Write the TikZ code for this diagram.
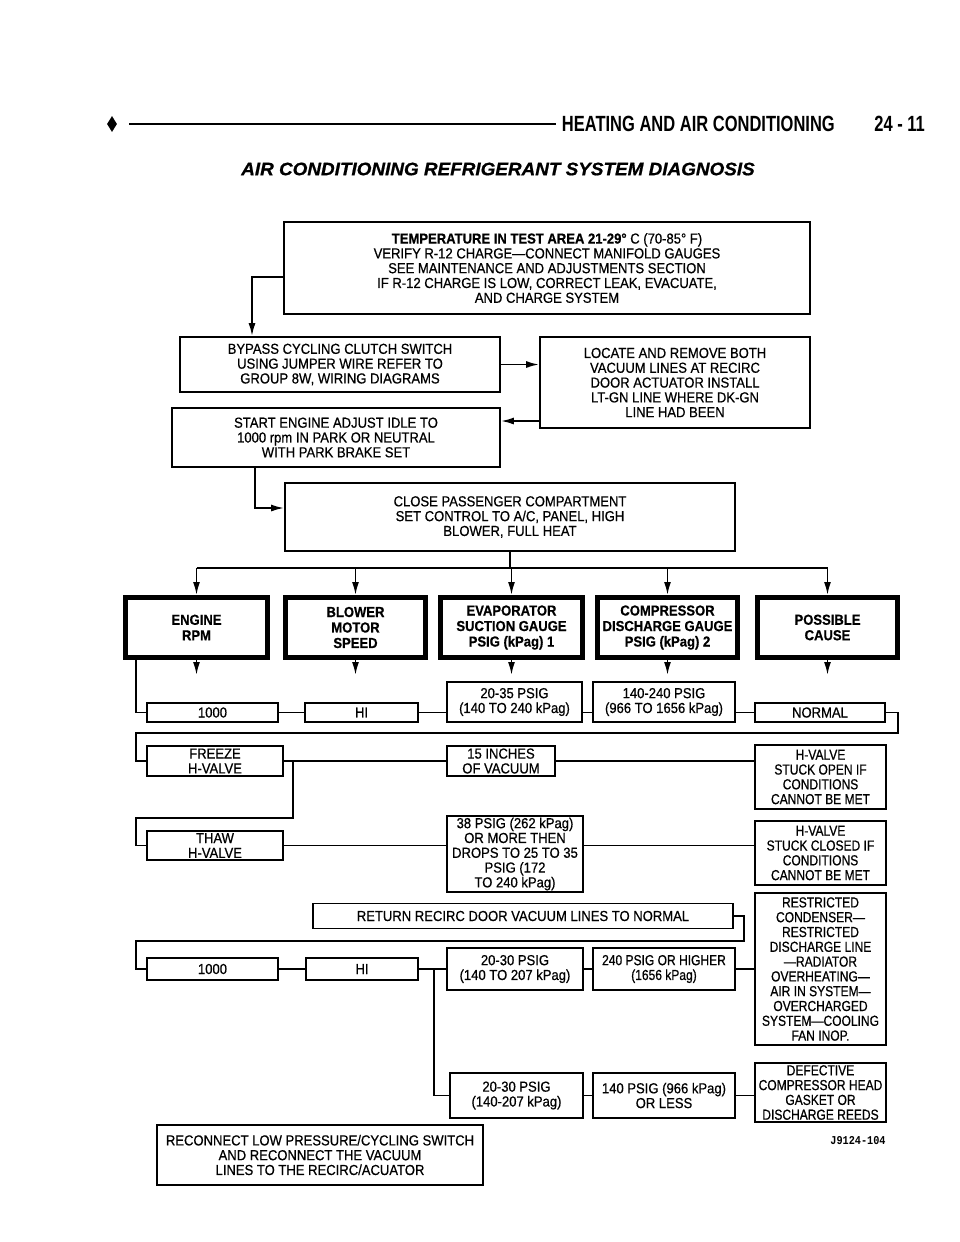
\documentclass[tikz,border=0pt]{standalone}
\usepackage{fontspec}
\setmainfont{Liberation Sans}
\newfontfamily\boxfont{Liberation Sans}[FakeStretch=0.9, FakeBold=0.6]
\newfontfamily\narrowfont{Liberation Sans}[FakeStretch=0.83, FakeBold=0.6]
\newfontfamily\headfont{Liberation Sans}[FakeStretch=0.75]
\newfontfamily\titlefont{Liberation Sans}[FakeStretch=1.05, FakeBold=0.8]
\newfontfamily\codefont{Liberation Mono}[FakeStretch=0.85]
\usetikzlibrary{arrows.meta,shapes.geometric}

\begin{document}
\begin{tikzpicture}[x=1pt, y=-1pt,
  txt/.style={font=\boxfont\fontsize{14.5}{14.8}\selectfont, align=center, inner sep=0pt},
  box/.style={txt, draw, line width=1.8pt},
  causebox/.style={box, font=\narrowfont\fontsize{14.5}{14.8}\selectfont},
  headbox/.style={txt, draw, line width=5pt, font=\boxfont\bfseries\fontsize{14.5}{15.5}\selectfont},
  link/.style={line width=1.8pt},
  arr/.style={link, -{Latex[length=13pt,width=7pt]}}]

  \fill[white] (0,0) rectangle (960,1242);
  \useasboundingbox (0,0) rectangle (960,1242);

  % page header
  \node[diamond, fill, inner sep=0pt, aspect=0.6, minimum width=10, minimum height=16] (mark) at (112,124) {};
  \node[anchor=east, inner sep=0pt, font=\headfont\bfseries\fontsize{22}{22}\selectfont] (runhead) at (835,124) {HEATING AND AIR CONDITIONING};
  \node[anchor=east, inner sep=0pt, font=\headfont\bfseries\fontsize{22}{22}\selectfont] (page) at (925,124) {24 - 11};
  \draw[line width=2.5pt] ([xshift=12pt]mark.east) -- ([xshift=-6pt]runhead.west);
  \node[font=\titlefont\bfseries\itshape\fontsize{18}{18}\selectfont] (title) at (498,169) {AIR CONDITIONING REFRIGERANT SYSTEM DIAGNOSIS};

  % set up steps
  \node[box, minimum width=526, minimum height=92] (temp) at (547,268) {\textbf{TEMPERATURE IN TEST AREA 21-29°} C (70-85° F)\\VERIFY R-12 CHARGE—CONNECT MANIFOLD GAUGES\\SEE MAINTENANCE AND ADJUSTMENTS SECTION\\IF R-12 CHARGE IS LOW, CORRECT LEAK, EVACUATE,\\AND CHARGE SYSTEM};
  \node[box, minimum width=320, minimum height=55] (bypass) at (340,364.5) {BYPASS CYCLING CLUTCH SWITCH\\USING JUMPER WIRE REFER TO\\GROUP 8W, WIRING DIAGRAMS};
  \node[box, minimum width=270, minimum height=91] (locate) at (675,382.5) {LOCATE AND REMOVE BOTH\\VACUUM LINES AT RECIRC\\DOOR ACTUATOR INSTALL\\LT-GN LINE WHERE DK-GN\\LINE HAD BEEN};
  \node[box, minimum width=328, minimum height=59] (start) at (336,437.5) {START ENGINE ADJUST IDLE TO\\1000 rpm IN PARK OR NEUTRAL\\WITH PARK BRAKE SET};
  \node[box, minimum width=450, minimum height=68] (close) at (510,517) {CLOSE PASSENGER COMPARTMENT\\SET CONTROL TO A/C, PANEL, HIGH\\BLOWER, FULL HEAT};

  \coordinate (back) at ([yshift=-38.5pt]locate.west);
  \draw[arr] ([yshift=-9pt]temp.west) -| ([xshift=-88pt]bypass.north);
  \draw[arr] (bypass.east) -- (bypass.east -| locate.west);
  \draw[arr] (back) -- (back -| start.east);
  \draw[arr] ([xshift=-81pt]start.south) |- ([yshift=9pt]close.west);

  % column heads
  \node[headbox, minimum width=142, minimum height=60] (rpm) at (196.5,627.5) {ENGINE\\RPM};
  \node[headbox, minimum width=140, minimum height=60] (blower) at (355.5,627.5) {BLOWER\\MOTOR\\SPEED};
  \node[headbox, minimum width=142, minimum height=60] (suction) at (511.5,627.5) {EVAPORATOR\\SUCTION GAUGE\\PSIG (kPag) 1};
  \node[headbox, minimum width=140, minimum height=60] (discharge) at (667.5,627.5) {COMPRESSOR\\DISCHARGE GAUGE\\PSIG (kPag) 2};
  \node[headbox, minimum width=140, minimum height=60] (cause) at (827.5,627.5) {POSSIBLE\\CAUSE};

  \coordinate (bus) at (510,568);
  \draw[link] (close.south) -- (bus);
  \draw[link] (rpm.north |- bus) -- (cause.north |- bus);
  \foreach \h in {rpm,blower,suction,discharge,cause}
    \draw[arr] (\h.north |- bus) -- (\h.north);
  \foreach \h in {rpm,blower,suction,discharge,cause}
    \draw[arr] (\h.south) -- ++(0,15);

  % normal readings
  \node[box, minimum width=131, minimum height=19] (rpmA) at (212.5,712.5) {1000};
  \node[box, minimum width=113, minimum height=19] (blowA) at (361.5,712.5) {HI};
  \node[box, minimum width=135, minimum height=40] (sucA) at (514.5,702) {20-35 PSIG\\(140 TO 240 kPag)};
  \node[box, minimum width=142, minimum height=40] (disA) at (664,702) {140-240 PSIG\\(966 TO 1656 kPag)};
  \node[box, minimum width=130, minimum height=19] (causeA) at (820,712.5) {NORMAL};

  % h-valve tests
  \node[box, minimum width=136, minimum height=30] (freeze) at (215,761) {FREEZE\\H-VALVE};
  \node[box, minimum width=108, minimum height=30] (vac) at (501,761) {15 INCHES\\OF VACUUM};
  \node[causebox, minimum width=131, minimum height=64] (open) at (820.5,777) {H-VALVE\\STUCK OPEN IF\\CONDITIONS\\CANNOT BE MET};
  \node[box, minimum width=136, minimum height=29] (thaw) at (215,845.5) {THAW\\H-VALVE};
  \node[box, minimum width=136, minimum height=76] (drop) at (515,854) {38 PSIG (262 kPag)\\OR MORE THEN\\DROPS TO 25 TO 35\\PSIG (172\\TO 240 kPag)};
  \node[causebox, minimum width=131, minimum height=64] (closed) at (820.5,853) {H-VALVE\\STUCK CLOSED IF\\CONDITIONS\\CANNOT BE MET};

  % high and low readings
  \node[box, minimum width=420, minimum height=25] (ret) at (523,916) {RETURN RECIRC DOOR VACUUM LINES TO NORMAL};
  \node[causebox, minimum width=131, minimum height=152] (restr) at (820.5,969) {RESTRICTED\\CONDENSER—\\RESTRICTED\\DISCHARGE LINE\\—RADIATOR\\OVERHEATING—\\AIR IN SYSTEM—\\OVERCHARGED\\SYSTEM—COOLING\\FAN INOP.};
  \node[box, minimum width=131, minimum height=22] (rpmB) at (212.5,969) {1000};
  \node[box, minimum width=112, minimum height=22] (blowB) at (362,969) {HI};
  \node[box, minimum width=136, minimum height=42] (sucB) at (515,969) {20-30 PSIG\\(140 TO 207 kPag)};
  \node[causebox, minimum width=142, minimum height=42] (disB) at (664,969) {240 PSIG OR HIGHER\\(1656 kPag)};
  \node[box, minimum width=133, minimum height=45] (sucC) at (516.5,1095.5) {20-30 PSIG\\(140-207 kPag)};
  \node[box, minimum width=142, minimum height=45] (disC) at (664,1095.5) {140 PSIG (966 kPag)\\OR LESS};
  \node[causebox, minimum width=131, minimum height=59] (defect) at (820.5,1092.5) {DEFECTIVE\\COMPRESSOR HEAD\\GASKET OR\\DISCHARGE REEDS};
  \node[box, minimum width=326, minimum height=60] (reconn) at (320,1155) {RECONNECT LOW PRESSURE/CYCLING SWITCH\\AND RECONNECT THE VACUUM\\LINES TO THE RECIRC/ACUATOR};
  \node[font=\codefont\bfseries\fontsize{12}{12}\selectfont] (code) at (858,1141) {J9124-104};

  % row links
  \coordinate (rail) at (136,0);
  \coordinate (loopA) at (898,733);
  \coordinate (loopB) at (136,818);
  \coordinate (loopC) at (744,941);
  \draw[link] ([xshift=13pt]rpm.south west) |- (rpmA.west);
  \draw[link] (rpmA) -- (blowA);
  \draw[link] (blowA.east) -- (blowA.east -| sucA.west);
  \draw[link] (sucA.east |- rpmA) -- (disA.west |- rpmA);
  \draw[link] (disA.east |- rpmA) -- (causeA.west);
  \draw[link] (causeA.east) -| (loopA) -| (rail |- freeze.west) -- (freeze.west);
  \draw[link] (freeze) -- (vac);
  \draw[link] (vac.east) -- (vac.east -| open.west);
  \draw[link] ([xshift=9pt]freeze.east) |- (loopB) |- (thaw.west);
  \draw[link] (thaw.east) -- (thaw.east -| drop.west);
  \draw[link] (drop.east |- thaw) -- (closed.west |- thaw);
  \draw[link] (ret.east) -| (loopC) -| (rail |- rpmB.west) -- (rpmB.west);
  \draw[link] (rpmB) -- (blowB) -- (sucB) -- (disB) -- (restr);
  \draw[link] ([xshift=-12pt]sucB.west) |- (sucC.west);
  \draw[link] (sucC) -- (disC);
  \draw[link] (disC.east) -- (disC.east -| defect.west);
\end{tikzpicture}
\end{document}
